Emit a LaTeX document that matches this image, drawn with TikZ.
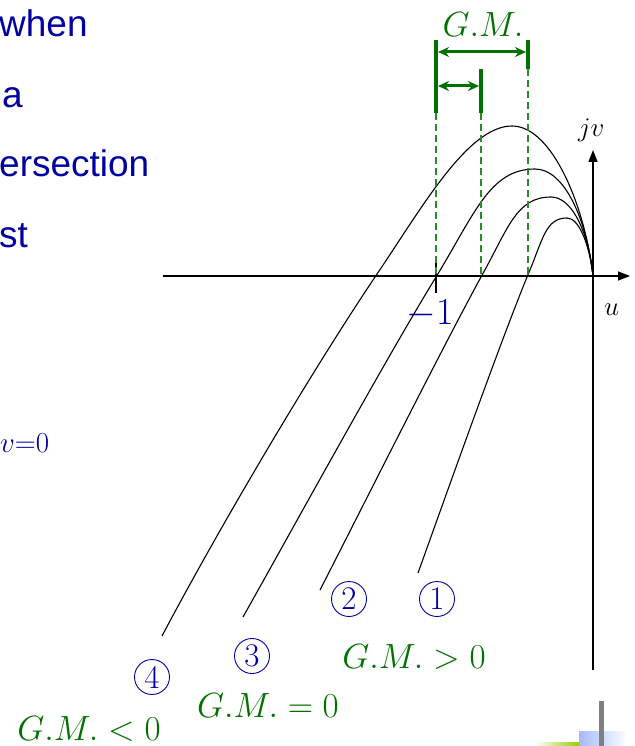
\documentclass[tikz,border=0pt]{standalone}
\usepackage{fix-cm}
\usepackage{fontspec}
\newfontfamily\arialf{Liberation Sans}
\usetikzlibrary{arrows.meta}
\definecolor{gmgreen}{RGB}{0,112,0}
\definecolor{dashgreen}{RGB}{40,140,40}
\definecolor{txtblue}{RGB}{0,0,160}
\definecolor{decogreen}{RGB}{153,204,0}
\definecolor{decoblue}{RGB}{165,185,255}
\definecolor{decogray}{RGB}{128,128,128}
\begin{document}
\begin{tikzpicture}[x=1pt,y=-1pt,
  curve/.style={line width=1.1pt, black},
  axis/.style={line width=1.4pt, -{Triangle[length=12pt,width=9pt]}},
  gmbar/.style={gmgreen, line width=4pt},
  gmarrow/.style={gmgreen, line width=3pt, {Stealth[length=11pt,width=10pt]}-{Stealth[length=11pt,width=10pt]}, shorten <=2pt, shorten >=2pt},
  gmdash/.style={dashgreen, line width=1.2pt, dash pattern=on 7pt off 4pt},
  gmlabel/.style={gmgreen, font=\fontsize{35}{40}\selectfont, inner sep=0, anchor=base},
  circnum/.style={circle, draw=txtblue, text=txtblue, line width=0.9pt, minimum size=35pt, inner sep=0, font=\fontsize{33}{33}\selectfont},
  slidetext/.style={txtblue, font=\arialf\fontsize{37}{40}\selectfont, inner sep=0, anchor=base west},
  axlabel/.style={font=\fontsize{27}{30}\selectfont, inner sep=0, anchor=base west}]
\useasboundingbox (0,0) rectangle (634,746);

% slide text fragments
\node[slidetext] (t1) at (-1,37) {when};
\node[slidetext] (t2) at (2,108) {a};
\node[slidetext] (t3) at (-1,176) {ersection};
\node[slidetext] (t4) at (-1,247) {st};
\node[txtblue, font=\fontsize{29}{30}\selectfont, inner sep=0, anchor=base west] (t5) at (0,452) {$v{=}0$};

% axes
\coordinate (xs) at (163,276);
\coordinate (xe) at (630,276);
\coordinate (ys) at (593,670);
\coordinate (ye) at (593,150);
\draw[axis] (xs) -- (xe);
\draw[axis] (ys) -- (ye);
\node[axlabel] (jv) at (578,137) {$jv$};
\node[axlabel] (u) at (604,315) {$u$};

% tick at -1
\coordinate (tk1) at (436,261);
\coordinate (tk2) at (436,293);
\draw[line width=2pt] (tk1) -- (tk2);
\node[txtblue, font=\fontsize{38}{40}\selectfont, inner sep=0, anchor=base] (m1) at (430,324) {$-1$};

% curves
\coordinate (O) at (593,276);
\coordinate (s4) at (162,636); \coordinate (x4) at (375,277); \coordinate (p4) at (512,126);
\coordinate (s3) at (243,617); \coordinate (x3) at (436,277); \coordinate (p3) at (535,169);
\coordinate (s2) at (320,590); \coordinate (x2) at (481,277); \coordinate (p2) at (551,197);
\coordinate (s1) at (418,573); \coordinate (x1) at (527,277); \coordinate (p1) at (567,218);
\draw[curve] (s4) .. controls (218,530) and (308,377) .. (x4)
  .. controls (420,211) and (467,126) .. (p4)
  .. controls (552,126) and (585,206) .. (O);
\draw[curve] (s3) .. controls (292,530) and (384,362) .. (x3)
  .. controls (475,213) and (490,169) .. (p3)
  .. controls (565,169) and (587,221) .. (O);
\draw[curve] (s2) .. controls (361,510) and (438,356) .. (x2)
  .. controls (508,229) and (516,197) .. (p2)
  .. controls (573,197) and (589,235) .. (O);
\draw[curve] (s1) .. controls (445,498) and (497,351) .. (x1)
  .. controls (543,240) and (545,218) .. (p1)
  .. controls (580,218) and (590,248) .. (O);

% gain margin marks
\coordinate (b1t) at (436,40);  \coordinate (b1b) at (436,113);
\coordinate (b2t) at (481,69);  \coordinate (b2b) at (481,113);
\coordinate (b3t) at (528,40);  \coordinate (b3b) at (528,69);
\coordinate (d1) at (436,276); \coordinate (d2) at (481,276); \coordinate (d3) at (528,276);
\draw[gmdash] (b1b) -- (d1);
\draw[gmdash] (b2b) -- (d2);
\draw[gmdash] (b3b) -- (d3);
\draw[gmbar] (b1t) -- (b1b);
\draw[gmbar] (b2t) -- (b2b);
\draw[gmbar] (b3t) -- (b3b);
\coordinate (a1l) at (436,52); \coordinate (a1r) at (528,52);
\coordinate (a2l) at (436,86); \coordinate (a2r) at (481,86);
\draw[gmarrow] (a1l) -- (a1r);
\draw[gmarrow] (a2l) -- (a2r);
\node[gmlabel] (gm) at (483,37) {$G.M.$};

% curve numbers
\node[circnum] (n1) at (437,599) {1};
\node[circnum] (n2) at (349,599) {2};
\node[circnum] (n3) at (252,656) {3};
\node[circnum] (n4) at (152,677) {4};

% gain margin labels
\node[gmlabel] (gp) at (414,668) {$G.M.>0$};
\node[gmlabel] (ge) at (268,717) {$G.M.=0$};
\node[gmlabel] (gn) at (89,740) {$G.M.<0$};

% slide decoration
\shade[left color=white, right color=decogreen] (535,742) rectangle (579,746);
\shade[left color=decoblue, right color=white] (579,731) rectangle (627,746);
\fill[decogray] (599,701) rectangle (604,746);
\end{tikzpicture}
\end{document}
